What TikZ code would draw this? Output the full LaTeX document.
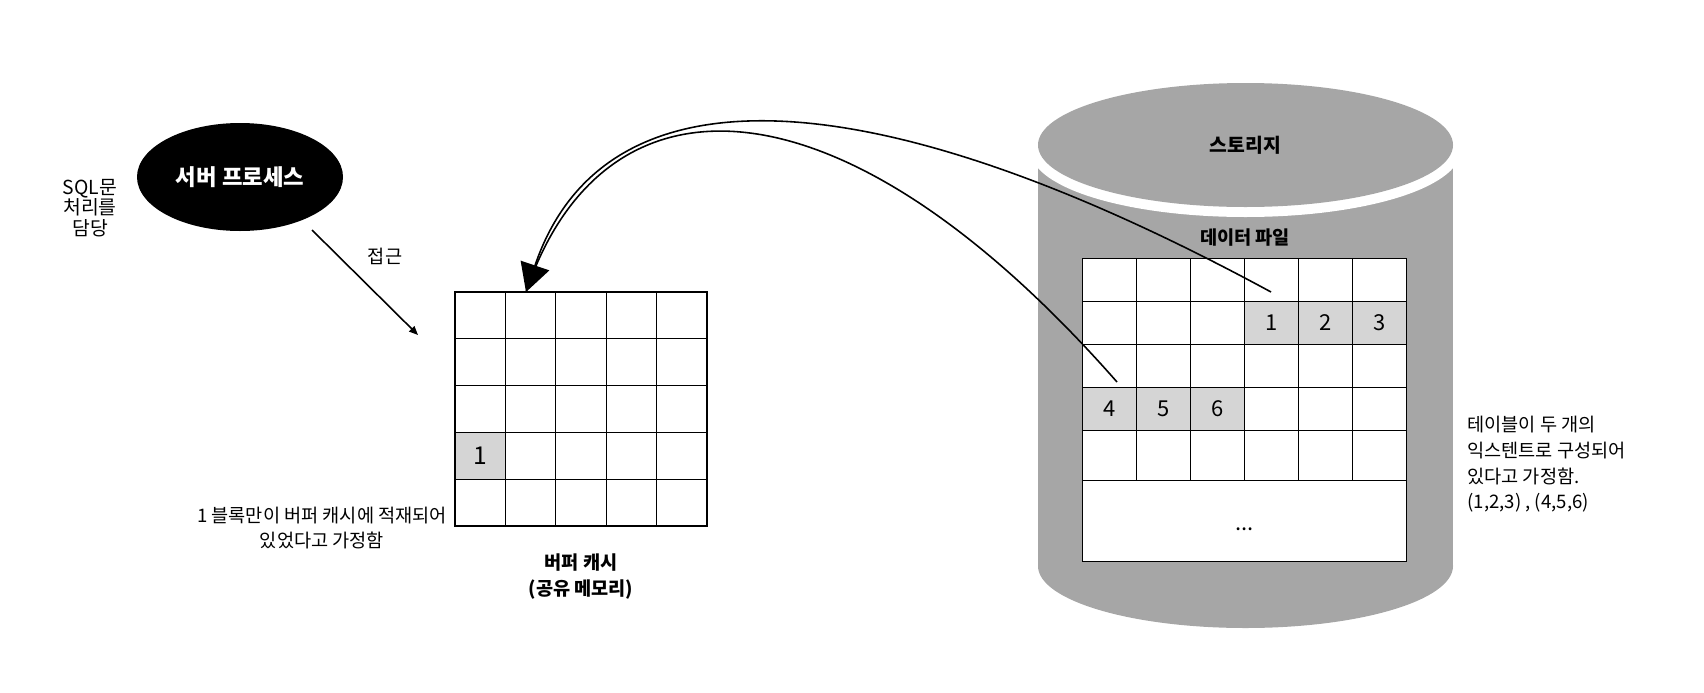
\documentclass[tikz,border=0pt]{standalone}
\usepackage{fontspec}
\setmainfont{Noto Sans CJK KR}
\usepackage{xcolor}
\usepackage{tikz}
\usetikzlibrary{shapes.geometric, arrows.meta}

\definecolor{storegray}{HTML}{A6A6A6}
\definecolor{blockgray}{HTML}{D5D5D5}

\begin{document}
\begin{tikzpicture}[
    x = 0.2mm, y = -0.2mm,
    note/.style    = {align=center, inner sep=0pt,
                      font=\fontsize{10.6}{14.6}\selectfont},
    boldnote/.style = {align=center, inner sep=0pt,
                       font=\fontsize{10.6}{14.8}\selectfont\bfseries},
    process/.style = {ellipse, fill=black, text=white,
                      minimum width=41.2mm, minimum height=21.6mm,
                      inner sep=0pt,
                      font=\fontsize{12.7}{14}\selectfont\bfseries},
    disktop/.style = {ellipse, fill=storegray,
                      minimum width=83mm, minimum height=24.8mm,
                      inner sep=0pt,
                      preaction={draw=white, line width=4mm},
                      font=\fontsize{11}{14}\selectfont\bfseries},
    bufcell/.style = {rectangle, draw, line width=0.7pt,
                      minimum width=10.08mm, minimum height=9.36mm,
                      inner sep=0pt,
                      font=\fontsize{14}{16}\selectfont},
    datcell/.style = {rectangle, draw, fill=white, line width=0.7pt,
                      minimum width=10.8mm, minimum height=8.6mm,
                      inner sep=0pt,
                      font=\fontsize{12.5}{14}\selectfont},
    hitcell/.style = {fill=blockgray},
    arrow/.style   = {-{Triangle[length=1.8mm, width=1.5mm]},
                      line width=0.9pt},
    fetch/.style   = {line width=0.9pt},
    bigtip/.style  = {-{Triangle[length=5.6mm, width=6mm]}}
]
\useasboundingbox (0,0) rectangle (1704,692);

%% Server process
\node[process] (server) at (240,177) {서버 프로세스};
\node[note, font=\fontsize{11}{11.7}\selectfont] (sqlnote)
    at (90,208) {SQL문\\처리를\\담당};

%% Access arrow
\coordinate (acc-from) at (312,230);
\coordinate (acc-to)   at (418,335);
\draw[arrow] (acc-from) -- (acc-to);
\node[note] (acclabel) at (385,256) {접근};

%% Buffer cache
\foreach \r in {1,...,5}
  \foreach \c in {1,...,5}
    \node[bufcell] (buf-\r-\c)
        at ({455+50.4*\c-25.2},{292+46.8*\r-23.4}) {};
\node[bufcell, hitcell] (buf-hit) at (buf-4-1) {1};

\node[note] (cachenote) at (322,528)
    {1 블록만이 버퍼 캐시에 적재되어\\있었다고 가정함};
\node[boldnote] (cachename) at (581,577)
    {버퍼 캐시\\(공유 메모리)};

%% Storage
\fill[storegray] (1038,145) rectangle (1453,566);
\fill[storegray] (1245.5,566) ellipse [x radius=41.5mm, y radius=12.4mm];
\node[disktop] (storage) at (1245.5,145) {스토리지};

%% Data file
\node[boldnote] (datlabel) at (1245,238) {데이터 파일};
\foreach \r in {1,...,4}
  \foreach \c in {1,...,6}
    \node[datcell] (dat-\r-\c)
        at ({1082.5+54*\c-27},{258.5+43*\r-21.5}) {};
\foreach \c in {1,...,6}
  \node[datcell, minimum height=10mm] (dat-5-\c)
      at ({1082.5+54*\c-27},455.5) {};
\node[datcell, minimum width=64.8mm, minimum height=16.2mm] (dat-rest)
    at (1244.5,521) {\smash{\raisebox{-1.8mm}{...}}};

%% Extents
\foreach \c/\n in {4/1, 5/2, 6/3}
  \node[datcell, hitcell] (ext-\n) at (dat-2-\c) {\n};
\foreach \c/\n in {1/4, 2/5, 3/6}
  \node[datcell, hitcell] (ext-\n) at (dat-4-\c) {\n};

\node[note, align=left, anchor=west] (extnote) at (1467,464.5)
    {테이블이 두 개의\\익스텐트로 구성되어\\있다고 가정함.\\(1,2,3) , (4,5,6)};

%% Read into cache
\coordinate (from-ext1) at (1271,292);
\coordinate (from-ext2) at (1117,382);
\coordinate (cache-in)  at (526,292);
\draw[fetch] (from-ext2) .. controls (840,67) and (604,62) .. (cache-in);
\draw[fetch, bigtip] (from-ext1) .. controls (871,75) and (604,62) .. (cache-in);
\end{tikzpicture}
\end{document}
